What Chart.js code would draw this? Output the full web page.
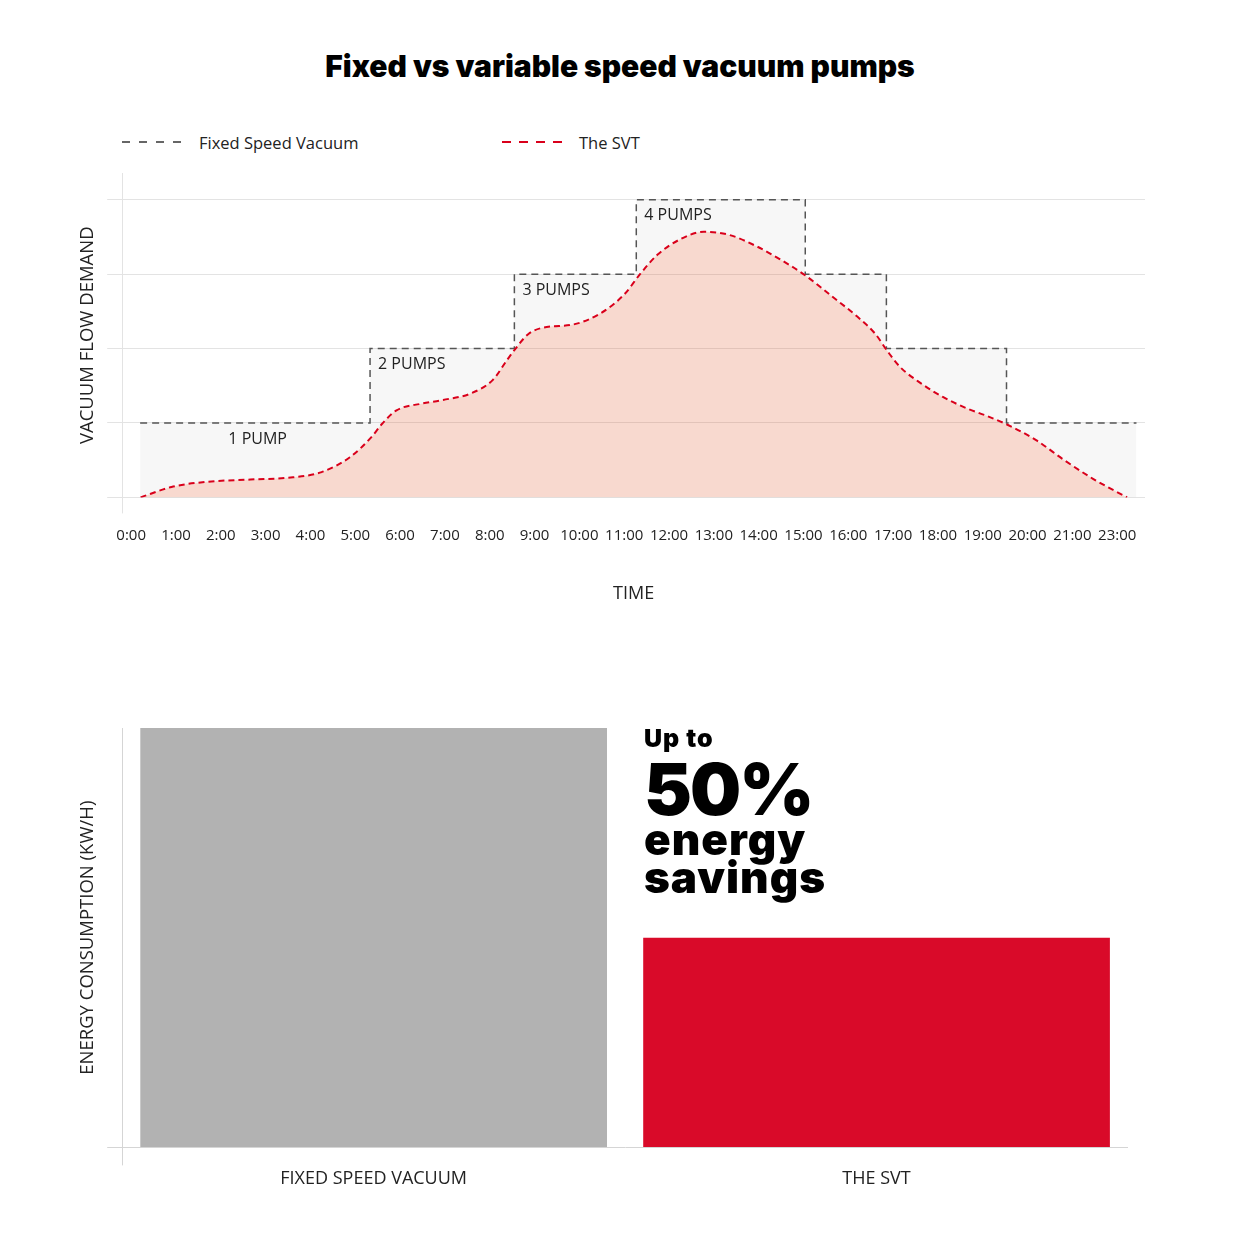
<!DOCTYPE html>
<html>
<head>
<meta charset="utf-8">
<title>Fixed vs variable speed vacuum pumps</title>
<script src="https://cdn.jsdelivr.net/npm/chart.js@4.4.1/dist/chart.umd.min.js"></script>
<style>
  body { margin: 0; background: #fff; width: 1240px; height: 1240px; position: relative; overflow: hidden; font-family: "Open Sans", sans-serif; color: #1a1a1a; }
  h1 { position: absolute; left: 0; top: 51px; width: 1240px; margin: 0; text-align: center; font: 900 30px/1 Inter, sans-serif; color: #000; }
  .legend { position: absolute; top: 131px; height: 22px; display: flex; align-items: center; font-size: 16.5px; color: #222; }
  .legend i { display: inline-block; width: 66px; margin-right: 11px; }
  .legend.fixed i { height: 1.5px; background: repeating-linear-gradient(90deg, #666 0 8px, transparent 8px 17px); }
  .legend.svt i { height: 2px; background: repeating-linear-gradient(90deg, #d9001b 0 9px, transparent 9px 17px); }
  #flowBox { position: absolute; left: 0; top: 160px; width: 1240px; height: 460px; }
  #energyBox { position: absolute; left: 0; top: 700px; width: 1240px; height: 520px; }
  .big { position: absolute; left: 644px; margin: 0; font-family: Inter, sans-serif; font-weight: 900; line-height: 1; color: #000; }
</style>
</head>
<body>
<h1>Fixed vs variable speed vacuum pumps</h1>
<div class="legend fixed" style="left:122px"><i></i>Fixed Speed Vacuum</div>
<div class="legend svt" style="left:502px"><i></i>The SVT</div>

<div id="flowBox"><canvas id="flowChart"></canvas></div>
<div id="energyBox"><canvas id="energyChart"></canvas></div>

<div class="big" style="top:726px;font-size:25px;letter-spacing:1px">Up to</div>
<div class="big" style="top:753px;font-size:72px;letter-spacing:-2px">50%</div>
<div class="big" style="top:817px;font-size:44px;letter-spacing:1px">energy</div>
<div class="big" style="top:855px;font-size:44px;letter-spacing:1px">savings</div>

<script>
const redColor = "#d9001b";
const textColor = "#222";
const gridColor = "#e3e3e3";

// x positions are in hours along the time axis
const hourLabels = ['0:00', '1:00', '2:00', '3:00', '4:00', '5:00', '6:00', '7:00', '8:00', '9:00', '10:00',
    '11:00', '12:00', '13:00', '14:00', '15:00', '16:00', '17:00', '18:00', '19:00', '20:00', '21:00', '23:00'];

const stepHours = [0.2, 5.33, 8.55, 11.27, 15.04, 16.85, 19.53, 22.43];
const stepPumps = [1, 2, 3, 4, 3, 2, 1, 1];

const svtHours = [0.21, 0.90, 1.70, 2.66, 3.61, 4.25, 4.88, 5.36, 5.60, 5.92,
    6.48, 6.96, 7.59, 8.07, 8.39, 8.55, 8.87, 9.27, 9.83, 10.46,
    11.02, 11.34, 11.74, 12.22, 12.78, 13.33, 13.97, 14.45, 15.05, 15.64,
    16.20, 16.60, 16.88, 17.16, 17.63, 18.11, 18.67, 19.07, 19.54, 20.19,
    20.82, 21.46, 22.22];
const svtDemand = [0, 0.14, 0.21, 0.24, 0.27, 0.34, 0.54, 0.81, 0.99, 1.17,
    1.26, 1.31, 1.40, 1.58, 1.85, 1.98, 2.20, 2.29, 2.32, 2.47,
    2.74, 2.99, 3.26, 3.46, 3.57, 3.53, 3.37, 3.21, 2.98, 2.70,
    2.43, 2.20, 1.96, 1.75, 1.53, 1.35, 1.19, 1.10, 0.98, 0.77,
    0.50, 0.25, 0];

const pumpNotes = ['1 PUMP', '2 PUMPS', '3 PUMPS', '4 PUMPS'];
const pumpNoteHours = [1.99, 5.33, 8.55, 11.27];
const pumpNoteLevels = [1, 2, 3, 4];

const energyCategories = ['FIXED SPEED VACUUM', 'THE SVT'];
const energyValues = [100, 50];

Chart.defaults.font.family = '"Open Sans", sans-serif';
Chart.defaults.color = textColor;
Chart.defaults.animation = false;

function toPoints(xs, ys) {
    return xs.map(function(x, i) {
        return {x: x, y: ys[i]};
    });
}

const pumpNotesPlugin = {
    id: 'pumpNotes',
    afterDatasetsDraw(chart) {
        const ctx = chart.ctx;
        const x = chart.scales.x;
        const y = chart.scales.y;
        ctx.save();
        ctx.font = '16px "Open Sans", sans-serif';
        ctx.fillStyle = textColor;
        ctx.textBaseline = 'middle';
        for (var i = 0; i < pumpNotes.length; ++i) {
            ctx.fillText(pumpNotes[i], x.getPixelForValue(pumpNoteHours[i]) + 8, y.getPixelForValue(pumpNoteLevels[i]) + 16);
        }
        ctx.restore();
    }
};

new Chart("flowChart", {
    type: 'line',
    data: {
        datasets: [{
            label: 'The SVT',
            data: toPoints(svtHours, svtDemand),
            borderColor: redColor,
            borderWidth: 2,
            borderDash: [6, 4],
            backgroundColor: 'rgba(251, 110, 65, 0.22)',
            fill: 'origin',
            cubicInterpolationMode: 'monotone',
            pointRadius: 0,
            order: 1,
        }, {
            label: 'Fixed Speed Vacuum',
            data: toPoints(stepHours, stepPumps),
            stepped: 'before',
            borderColor: '#555',
            borderWidth: 1.5,
            borderDash: [7, 5],
            backgroundColor: 'rgba(0, 0, 0, 0.03)',
            fill: 'origin',
            pointRadius: 0,
            order: 2,
        }]
    },
    options: {
        responsive: true,
        maintainAspectRatio: false,
        layout: { padding: { left: 73, right: 95, top: 13, bottom: 10 } },
        plugins: {
            legend: { display: false },
            tooltip: { enabled: false }
        },
        scales: {
            x: {
                type: 'linear',
                min: -0.2,
                max: 22.62,
                afterBuildTicks: function(scale) {
                    const ticks = [{value: scale.min}];
                    for (var i = 0; i < hourLabels.length; ++i) {
                        ticks.push({value: i});
                    }
                    scale.ticks = ticks;
                },
                ticks: {
                    autoSkip: false,
                    maxRotation: 0,
                    padding: 13,
                    color: textColor,
                    font: { size: 15 },
                    callback: function(value, index) {
                        return index === 0 ? '' : hourLabels[index - 1];
                    }
                },
                grid: {
                    drawOnChartArea: false,
                    tickLength: 16,
                    color: function(c) { return c.index === 0 ? gridColor : 'rgba(0,0,0,0)'; }
                },
                border: { display: false },
                title: {
                    display: true,
                    text: 'TIME',
                    color: textColor,
                    font: { size: 18 },
                    padding: { top: 26, bottom: 5 }
                }
            },
            y: {
                min: 0,
                max: 4.36,
                afterBuildTicks: function(scale) {
                    scale.ticks = scale.ticks.filter(function(t) { return Number.isInteger(t.value); });
                },
                ticks: { display: false, stepSize: 1 },
                grid: { color: gridColor, tickLength: 15 },
                border: { display: true, color: gridColor },
                title: {
                    display: true,
                    text: 'VACUUM FLOW DEMAND',
                    color: textColor,
                    font: { size: 18.5 },
                    padding: { top: 4, bottom: 8 }
                }
            }
        }
    },
    plugins: [pumpNotesPlugin]
});

new Chart("energyChart", {
    type: 'bar',
    data: {
        labels: energyCategories,
        datasets: [{
            data: energyValues,
            backgroundColor: ['#b2b2b2', '#d90a29'],
            barPercentage: 0.928,
            categoryPercentage: 1,
        }]
    },
    options: {
        responsive: true,
        maintainAspectRatio: false,
        layout: { padding: { left: 73, right: 112, top: 28, bottom: 27 } },
        plugins: {
            legend: { display: false },
            tooltip: { enabled: false }
        },
        scales: {
            x: {
                ticks: { color: textColor, font: { size: 18 }, padding: 3 },
                grid: {
                    drawOnChartArea: false,
                    tickLength: 18,
                    color: function(c) { return c.index === 0 ? '#d5d5d5' : 'rgba(0,0,0,0)'; }
                },
                border: { display: false }
            },
            y: {
                min: 0,
                max: 100,
                ticks: { display: false, stepSize: 100 },
                grid: {
                    tickLength: 15,
                    color: function(c) { return c.tick && c.tick.value === 0 ? '#d5d5d5' : 'rgba(0,0,0,0)'; }
                },
                border: { display: true, color: '#d5d5d5' },
                title: {
                    display: true,
                    text: 'ENERGY CONSUMPTION (KW/H)',
                    color: textColor,
                    font: { size: 18.5 },
                    padding: { top: 4, bottom: 8 }
                }
            }
        }
    }
});
</script>
</body>
</html>
